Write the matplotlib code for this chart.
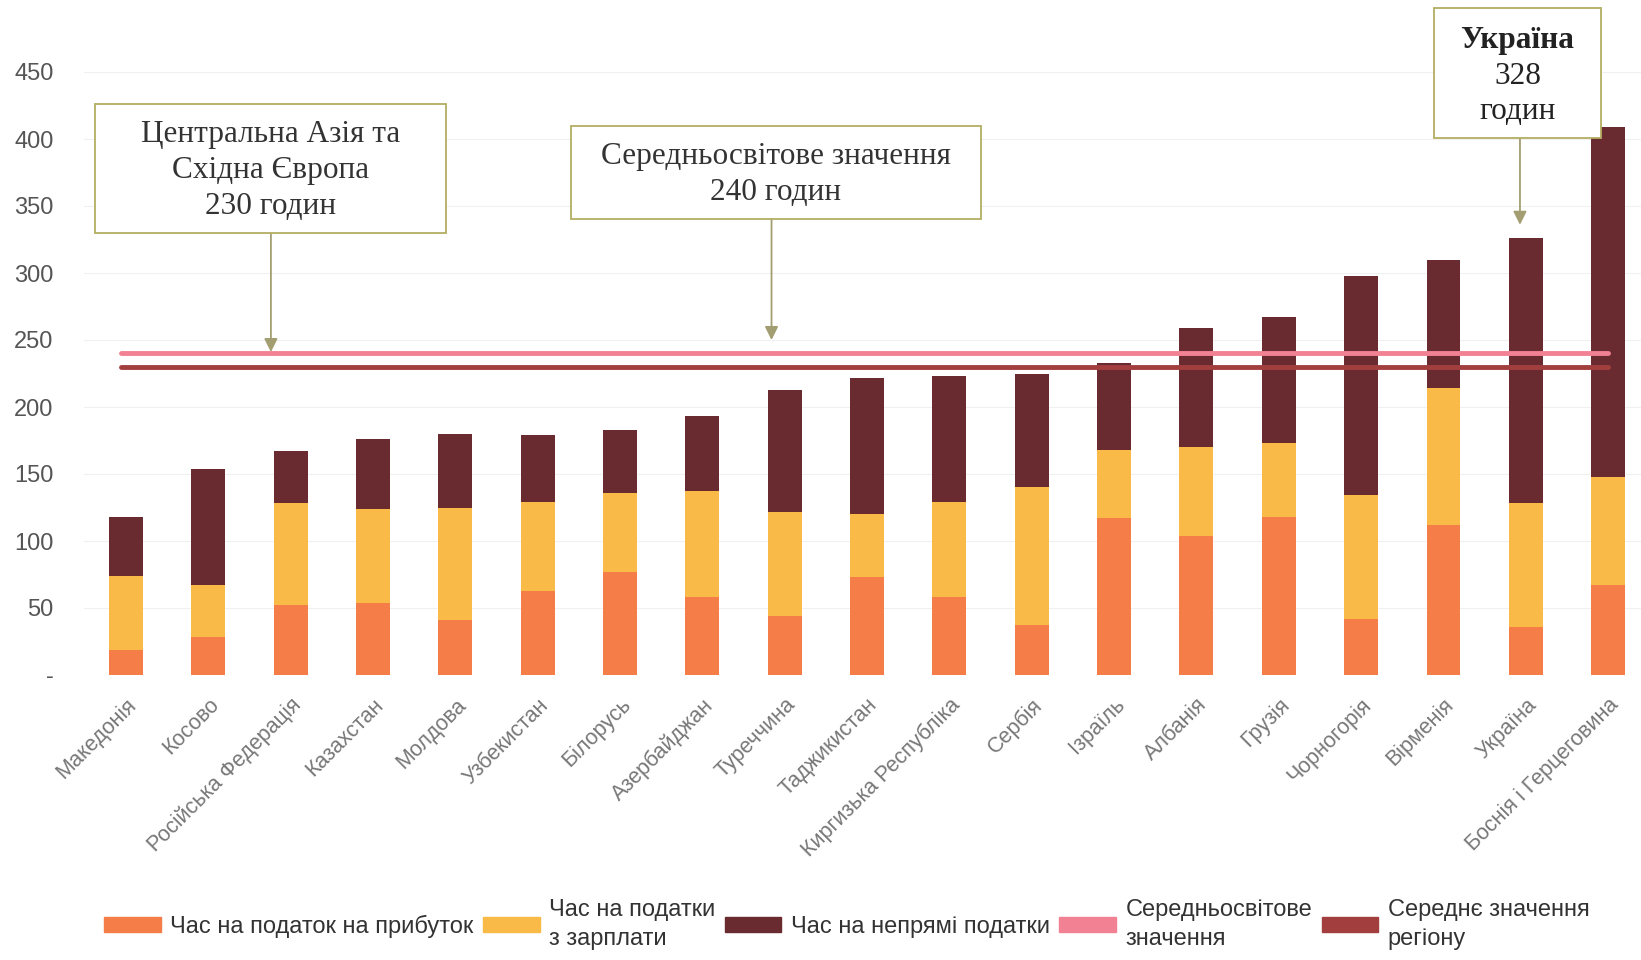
import matplotlib.pyplot as plt
from matplotlib.patches import Patch, Rectangle

# країни та години (оцінка з рисунка)
countries = ['Македонія', 'Косово', 'Російська Федерація', 'Казахстан', 'Молдова',
             'Узбекистан', 'Білорусь', 'Азербайджан', 'Туреччина', 'Таджикистан',
             'Киргизька Республіка', 'Сербія', 'Ізраїль', 'Албанія', 'Грузія',
             'Чорногорія', 'Вірменія', 'Україна', 'Боснія і Герцеговина']
profit = [19, 28, 52, 54, 41, 63, 77, 58, 44, 73, 58, 37, 117, 104, 118, 42, 112, 36, 67]
payroll = [55, 39, 76, 70, 84, 66, 59, 79, 78, 47, 71, 103, 51, 66, 55, 92, 102, 92, 81]
indirect = [44, 87, 39, 52, 55, 50, 47, 56, 91, 102, 94, 85, 65, 89, 94, 164, 96, 198, 261]
world_avg = 240
region_avg = 230
yticks = [0, 50, 100, 150, 200, 250, 300, 350, 400, 450]
ytick_labels = ['-', '50', '100', '150', '200', '250', '300', '350', '400', '450']

c_profit = '#F47D48'
c_payroll = '#F9BA48'
c_indirect = '#6A2B30'
c_world = '#F28293'
c_region = '#A23F3E'
c_box = '#B3AE62'
c_arrow = '#A39D72'

plt.rcParams['font.family'] = ['Liberation Sans', 'DejaVu Sans']

fig = plt.figure(figsize=(16.41, 9.6), dpi=100)
W, H = 1641, 960
ax = fig.add_axes([84 / W, 1 - 675 / H, 1 - 84 / W, (675 - 72) / H])

x = list(range(len(countries)))
w = 0.41
base2 = profit
base3 = [a + b for a, b in zip(profit, payroll)]
ax.bar(x, profit, w, color=c_profit, zorder=2)
ax.bar(x, payroll, w, bottom=base2, color=c_payroll, zorder=2)
ax.bar(x, indirect, w, bottom=base3, color=c_indirect, zorder=2)

ax.plot([-0.06, len(x) - 1], [world_avg, world_avg], color=c_world, lw=3.5,
        solid_capstyle='round', zorder=3)
ax.plot([-0.06, len(x) - 1], [region_avg, region_avg], color=c_region, lw=3.5,
        solid_capstyle='round', zorder=3)

ax.set_xlim(-0.51, 18.4)
ax.set_ylim(0, 450)
ax.set_yticks(yticks)
ax.set_yticklabels(ytick_labels, color='#555555', fontsize=17)
ax.grid(axis='y', color='#F0F0F0', lw=0.8, zorder=0)
ax.tick_params(axis='y', length=0, pad=22)
ax.tick_params(axis='x', length=0, pad=14)
ax.set_xticks(x)
ax.set_xticklabels(countries, rotation=45, ha='right', rotation_mode='anchor',
                   color='#777777', fontsize=15.5)
for s in ax.spines.values():
    s.set_visible(False)

# підписи-виноски
serif = ['Liberation Serif', 'DejaVu Serif']
boxes = [
    ((-0.38, 330), 4.27, 96, 'Центральна Азія та\nСхідна Європа\n230 годин', (1.76, 241), False),
    ((5.41, 340), 4.97, 70, 'Середньосвітове значення\n240 годин', (7.84, 250), False),
    ((15.89, 401), 2.02, 97, None, (16.93, 336), True),
]
for (bx, by), bw, bh, txt, tip, ukr in boxes:
    ax.add_patch(Rectangle((bx, by), bw, bh, facecolor='white', edgecolor=c_box,
                           lw=1.3, clip_on=False, zorder=5))
    cx = bx + bw / 2
    if ukr:
        for frac, s, wt in [(0.75, 'Україна', 'bold'), (0.47, '328', 'normal'),
                            (0.2, 'годин', 'normal')]:
            ax.text(cx, by + bh * frac, s, ha='center', va='center', fontsize=22.5,
                    fontweight=wt, family=serif, color='#222222', zorder=6,
                    clip_on=False)
    else:
        ax.text(cx, by + bh / 2 - 1.5, txt, ha='center', va='center', fontsize=22.5,
                family=serif, color='#333333', linespacing=1.3, zorder=6)
    ax.annotate('', xy=tip, xytext=(tip[0], by),
                arrowprops=dict(arrowstyle='-|>', color=c_arrow, lw=1.3,
                                mutation_scale=20, shrinkA=0, shrinkB=0),
                zorder=4)

handles = [
    Patch(color=c_profit),
    Patch(color=c_payroll),
    Patch(color=c_indirect),
    Patch(color=c_world),
    Patch(color=c_region),
]
labels = ['Час на податок на прибуток', 'Час на податки\nз зарплати',
          'Час на непрямі податки', 'Середньосвітове\nзначення',
          'Середнє значення\nрегіону']
leg = fig.legend(handles, labels, loc='lower center', bbox_to_anchor=(0.516, -0.012),
                 ncol=5, frameon=False, fontsize=17, handlelength=2.4,
                 handleheight=0.55, columnspacing=0.4, handletextpad=0.4)
for t in leg.get_texts():
    t.set_color('#333333')
    t.set_linespacing(1.45)

fig.savefig('out.png', dpi=100)
